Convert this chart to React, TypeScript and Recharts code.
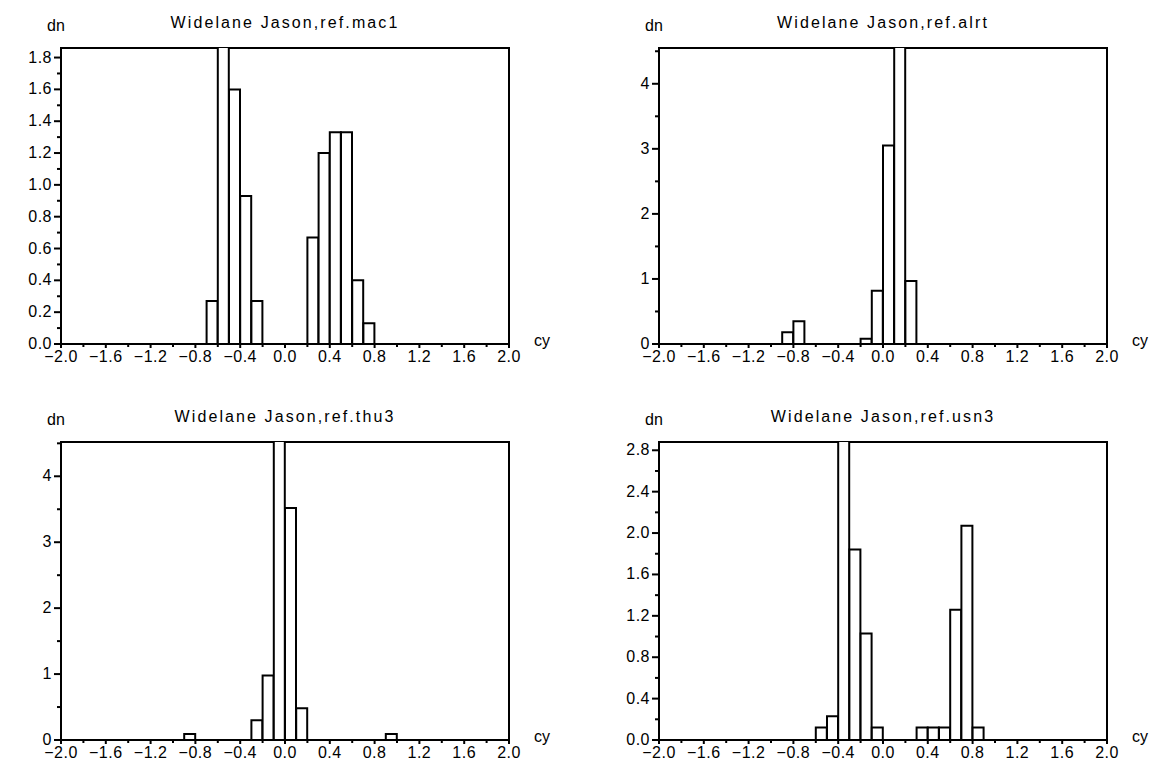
import { BarChart, Bar, XAxis, YAxis, ReferenceArea } from "recharts";

const FONT = "'Liberation Sans', Arial, sans-serif";

// lower edge of every 0.1 cy bin between -2 and 2 (the category axis)
const BIN_STARTS = Array.from({ length: 40 }, (_, i) => Math.round((-2 + i * 0.1) * 10) / 10);

const X_TICKS = [
  -2.0, -1.8, -1.6, -1.4, -1.2, -1.0, -0.8, -0.6, -0.4, -0.2, 0.0,
  0.2, 0.4, 0.6, 0.8, 1.0, 1.2, 1.4, 1.6, 1.8, 2.0,
];

// ref.mac1
const mac1Bins = [-0.7, -0.6, -0.5, -0.4, -0.3, 0.2, 0.3, 0.4, 0.5, 0.6, 0.7];
const mac1Dn = [0.27, 1.87, 1.6, 0.93, 0.27, 0.67, 1.2, 1.33, 1.33, 0.4, 0.13];
const mac1YTicks = [0, 0.1, 0.2, 0.3, 0.4, 0.5, 0.6, 0.7, 0.8, 0.9, 1.0, 1.1, 1.2, 1.3, 1.4, 1.5, 1.6, 1.7, 1.8];

// ref.alrt
const alrtBins = [-0.9, -0.8, -0.2, -0.1, 0.0, 0.1, 0.2];
const alrtDn = [0.18, 0.35, 0.08, 0.82, 3.05, 4.6, 0.97];
const alrtYTicks = [0, 0.5, 1, 1.5, 2, 2.5, 3, 3.5, 4, 4.5];

// ref.thu3
const thu3Bins = [-0.9, -0.3, -0.2, -0.1, 0.0, 0.1, 0.9];
const thu3Dn = [0.09, 0.3, 0.98, 4.6, 3.52, 0.48, 0.09];
const thu3YTicks = [0, 0.5, 1, 1.5, 2, 2.5, 3, 3.5, 4, 4.5];

// ref.usn3
const usn3Bins = [-0.6, -0.5, -0.4, -0.3, -0.2, -0.1, 0.3, 0.4, 0.5, 0.6, 0.7, 0.8];
const usn3Dn = [0.12, 0.23, 2.95, 1.84, 1.03, 0.12, 0.12, 0.12, 0.12, 1.26, 2.07, 0.12];
const usn3YTicks = [0, 0.2, 0.4, 0.6, 0.8, 1.0, 1.2, 1.4, 1.6, 1.8, 2.0, 2.2, 2.4, 2.6, 2.8];

interface Panel {
  title: string;
  bins: number[];
  dn: number[];
  yTicks: number[];
  yMax: number;
  yMajor: number;
  yDigits: number;
  left: number;
  top: number;
  height: number;
  axisWidth: number;
  marginTop: number;
  marginRight: number;
  marginBottom: number;
}

const panels: Panel[] = [
  { title: "Widelane Jason,ref.mac1", bins: mac1Bins, dn: mac1Dn, yTicks: mac1YTicks, yMax: 1.86, yMajor: 0.2, yDigits: 1,
    left: 0, top: 0, height: 380, axisWidth: 61, marginTop: 48, marginRight: 71, marginBottom: 12 },
  { title: "Widelane Jason,ref.alrt", bins: alrtBins, dn: alrtDn, yTicks: alrtYTicks, yMax: 4.55, yMajor: 1, yDigits: 0,
    left: 580, top: 0, height: 380, axisWidth: 79, marginTop: 48, marginRight: 53, marginBottom: 12 },
  { title: "Widelane Jason,ref.thu3", bins: thu3Bins, dn: thu3Dn, yTicks: thu3YTicks, yMax: 4.52, yMajor: 1, yDigits: 0,
    left: 0, top: 380, height: 390, axisWidth: 61, marginTop: 62, marginRight: 71, marginBottom: 6 },
  { title: "Widelane Jason,ref.usn3", bins: usn3Bins, dn: usn3Dn, yTicks: usn3YTicks, yMax: 2.88, yMajor: 0.4, yDigits: 1,
    left: 580, top: 380, height: 390, axisWidth: 79, marginTop: 62, marginRight: 53, marginBottom: 6 },
];

const isMajor = (v: number, step: number) => Math.abs(Math.round(v / step) * step - v) < 1e-6;

const fmt = (v: number, digits: number) => {
  const s = Math.abs(v).toFixed(digits);
  return v < -1e-9 ? `\u2212${s}` : s;
};

function XTick(props: any) {
  const { x, y, payload } = props;
  const v = payload.value as number;
  const major = isMajor(v, 0.4);
  return (
    <g>
      <line x1={x} x2={x} y1={y} y2={y + (major ? 4 : 3)} stroke="#000" strokeWidth={2} />
      {major && (
        <text x={x} y={y + 18} textAnchor="middle" fontSize={16} letterSpacing={0.5} fill="#000" fontFamily={FONT}>
          {fmt(v, 1)}
        </text>
      )}
    </g>
  );
}

function YTick(props: any) {
  const { x, y, payload, step, digits } = props;
  const v = payload.value as number;
  const major = isMajor(v, step);
  return (
    <g>
      <line x1={x - (major ? 7 : 4)} x2={x} y1={y} y2={y} stroke="#000" strokeWidth={2} />
      {major && (
        <text x={x - 9} y={y + 5} textAnchor="end" fontSize={16} letterSpacing={0.5} fill="#000" fontFamily={FONT}>
          {fmt(v, digits)}
        </text>
      )}
    </g>
  );
}

function Histogram({ p }: { p: Panel }) {
  const data = BIN_STARTS.map((b) => {
    const i = p.bins.findIndex((v) => Math.abs(v - b) < 1e-6);
    return { bin: b, dn: i >= 0 ? p.dn[i] : 0 };
  });
  const plotLeft = p.axisWidth;
  const plotRight = 580 - p.marginRight;
  const plotTop = p.marginTop;
  const plotBottom = p.height - p.marginBottom - 24;

  return (
    <div style={{ position: "absolute", left: p.left, top: p.top, width: 580, height: p.height }}>
      <BarChart
        width={580}
        height={p.height}
        data={data}
        barCategoryGap={0}
        barGap={0}
        margin={{ top: p.marginTop, right: p.marginRight, bottom: p.marginBottom, left: 0 }}
      >
        <XAxis xAxisId="bins" dataKey="bin" type="category" height={0} hide />
        <XAxis
          xAxisId="num"
          dataKey="bin"
          type="number"
          domain={[-2, 2]}
          allowDataOverflow
          ticks={X_TICKS}
          interval={0}
          height={24}
          tickSize={0}
          tickMargin={0}
          tickLine={false}
          axisLine={{ stroke: "#000", strokeWidth: 2 }}
          tick={(t: any) => <XTick {...t} />}
        />
        <YAxis
          type="number"
          domain={[0, p.yMax]}
          allowDataOverflow
          ticks={p.yTicks}
          interval={0}
          width={p.axisWidth}
          tickSize={0}
          tickMargin={0}
          tickLine={false}
          axisLine={{ stroke: "#000", strokeWidth: 2 }}
          tick={(t: any) => <YTick {...t} step={p.yMajor} digits={p.yDigits} />}
        />
        <Bar xAxisId="bins" dataKey="dn" fill="#fff" stroke="#000" strokeWidth={2} isAnimationActive={false} />
        <ReferenceArea
          xAxisId="num"
          x1={-2}
          x2={2}
          y1={0}
          y2={p.yMax}
          fill="none"
          fillOpacity={0}
          stroke="#000"
          strokeWidth={2}
        />
      </BarChart>
      <svg
        width={580}
        height={p.height}
        style={{ position: "absolute", left: 0, top: 0, pointerEvents: "none" }}
        fontFamily={FONT}
        fontSize={16}
      >
        <text x={plotLeft - 14} y={plotTop - 17} fill="#000">dn</text>
        <text x={(plotLeft + plotRight) / 2} y={plotTop - 20} textAnchor="middle" letterSpacing={2.1} fill="#000">
          {p.title}
        </text>
        <text x={plotRight + 25} y={plotBottom + 2} fill="#000">cy</text>
      </svg>
    </div>
  );
}

export default function App() {
  return (
    <div style={{ position: "absolute", left: 0, top: 0, width: 1160, height: 770, background: "#fff" }}>
      {panels.map((p) => (
        <Histogram key={p.title} p={p} />
      ))}
    </div>
  );
}
